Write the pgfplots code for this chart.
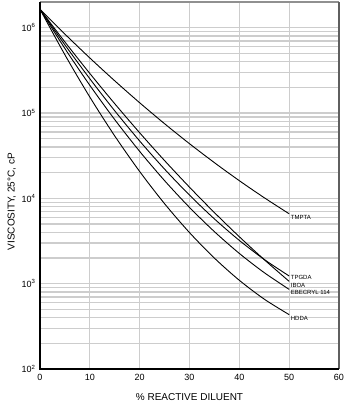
\documentclass[border=0pt]{standalone}
\usepackage{pgfplots}
\pgfplotsset{compat=1.18}
\usepackage{fontspec}
\setmainfont{Liberation Sans}
\definecolor{gridgray}{RGB}{205,205,205}
\definecolor{rightgray}{RGB}{95,95,95}
\begin{document}
\begin{tikzpicture}
\begin{axis}[
  scale only axis, width=299pt, height=367pt,
  xmin=0, xmax=60, ymode=log, ymin=100, ymax=2e6,
  xtick={0,10,20,30,40,50,60},
  ytick={100,1000,10000,100000,1000000},
  yticklabels={10\textsuperscript{2},10\textsuperscript{3},10\textsuperscript{4},10\textsuperscript{5},10\textsuperscript{6}},
  minor ytick={200,300,400,500,600,700,800,900,2000,3000,4000,5000,6000,7000,8000,9000,20000,30000,40000,50000,60000,70000,80000,90000,200000,300000,400000,500000,600000,700000,800000,900000},
  grid=both,
  major grid style={draw=gridgray, line width=1.3pt},
  minor grid style={draw=gridgray, line width=1.3pt},
  tick style={draw=none},
  axis line style={draw=none},
  /pgf/number format/assume math mode=true,
  ticklabel style={font=\fontsize{9}{10}\selectfont},
  xticklabel style={yshift=-2pt},
  yticklabel style={xshift=-1pt},
  xlabel={\% REACTIVE DILUENT},
  ylabel={VISCOSITY, 25\textdegree C, cP},
  label style={font=\fontsize{10}{12}\selectfont},
  xlabel style={at={(axis description cs:0.5,-0.076)}, anchor=center},
  ylabel style={at={(axis description cs:-0.094,0.456)}, anchor=center},
  clip=false,
  curve/.style={black, line width=0.9pt, smooth, mark=none},
]
\draw[gridgray!70!black, line width=1.3pt] (rel axis cs:0,1) -- (rel axis cs:1,1);
\draw[rightgray, line width=2pt] (rel axis cs:1,0) -- (rel axis cs:1,1);
\draw[black, line width=1.4pt] (rel axis cs:0,1) -- (rel axis cs:0,0) -- (rel axis cs:1,0);

% TMPTA
\addplot[curve] coordinates {(0,1644000) (5,841000) (10,441600) (15,238300) (20,131900) (25,74930) (30,43700) (35,26180) (40,16100) (45,10170) (50,6590)};
% TPGDA
\addplot[curve] coordinates {(0,1644000) (5,628900) (10,252000) (15,106050) (20,46990) (25,22000) (30,10910) (35,5740) (40,3215) (45,1922) (50,1230)};
% IBOA
\addplot[curve] coordinates {(0,1644000) (5,680200) (10,290800) (15,128500) (20,58680) (25,27690) (30,13510) (35,6810) (40,3548) (45,1911) (50,1064)};
% EBECRYL 114
\addplot[curve] coordinates {(0,1644000) (5,569600) (10,211100) (15,83680) (20,35510) (25,16120) (30,7830) (35,4070) (40,2262) (45,1346) (50,857)};
% HDDA
\addplot[curve] coordinates {(0,1644000) (5,480800) (10,153800) (15,53830) (20,20630) (25,8650) (30,3970) (35,1993) (40,1095) (45,658.6) (50,433.5)};

\begin{scope}[every node/.style={anchor=west, inner sep=0pt, font=\fontsize{6}{7}\selectfont}]
\node at (axis cs:50.3,5920) {TMPTA};
\node at (axis cs:50.3,1175) {TPGDA};
\node at (axis cs:50.3,948) {IBOA};
\node at (axis cs:50.3,785) {EBECRYL 114};
\node at (axis cs:50.3,390) {HDDA};
\end{scope}
\end{axis}
\pgfresetboundingbox
\path[use as bounding box] ([xshift=-40pt,yshift=-39pt]current axis.south west) rectangle ([xshift=12pt,yshift=2pt]current axis.north east);
\end{tikzpicture}
\end{document}
